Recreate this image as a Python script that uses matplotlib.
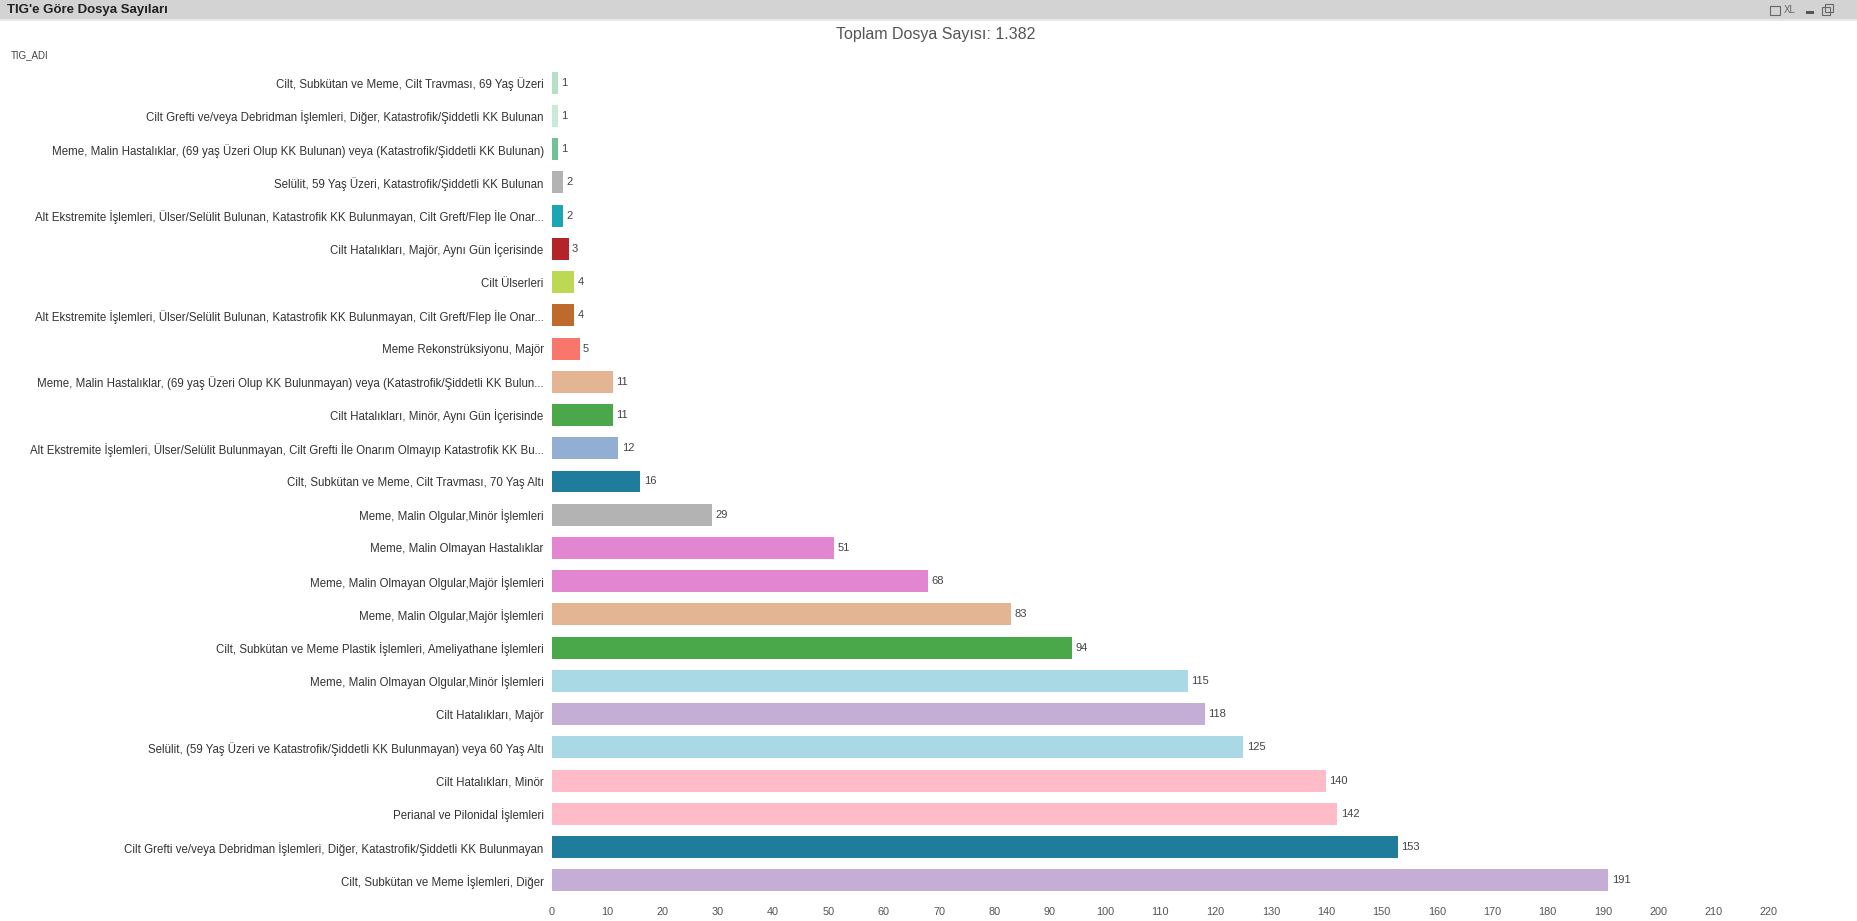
import matplotlib
matplotlib.use("Agg")
import matplotlib.pyplot as plt
from matplotlib.patches import Rectangle

plt.rcParams['font.family'] = ['Liberation Sans', 'DejaVu Sans']

# TIG names, top to bottom
tig_names = [
    "Cilt, Subkütan ve Meme, Cilt Travması, 69 Yaş Üzeri",
    "Cilt Grefti ve/veya Debridman İşlemleri, Diğer, Katastrofik/Şiddetli KK Bulunan",
    "Meme, Malin Hastalıklar, (69 yaş Üzeri Olup KK Bulunan) veya (Katastrofik/Şiddetli KK Bulunan)",
    "Selülit, 59 Yaş Üzeri, Katastrofik/Şiddetli KK Bulunan",
    "Alt Ekstremite İşlemleri, Ülser/Selülit Bulunan, Katastrofik KK Bulunmayan, Cilt Greft/Flep İle Onar...",
    "Cilt Hatalıkları, Majör, Aynı Gün İçerisinde",
    "Cilt Ülserleri",
    "Alt Ekstremite İşlemleri, Ülser/Selülit Bulunan, Katastrofik KK Bulunmayan, Cilt Greft/Flep İle Onar...",
    "Meme Rekonstrüksiyonu, Majör",
    "Meme, Malin Hastalıklar, (69 yaş Üzeri Olup KK Bulunmayan) veya (Katastrofik/Şiddetli KK Bulun...",
    "Cilt Hatalıkları, Minör, Aynı Gün İçerisinde",
    "Alt Ekstremite İşlemleri, Ülser/Selülit Bulunmayan, Cilt Grefti İle Onarım Olmayıp Katastrofik KK Bu...",
    "Cilt, Subkütan ve Meme, Cilt Travması, 70 Yaş Altı",
    "Meme, Malin Olgular,Minör İşlemleri",
    "Meme, Malin Olmayan Hastalıklar",
    "Meme, Malin Olmayan Olgular,Majör İşlemleri",
    "Meme, Malin Olgular,Majör İşlemleri",
    "Cilt, Subkütan ve Meme Plastik İşlemleri, Ameliyathane İşlemleri",
    "Meme, Malin Olmayan Olgular,Minör İşlemleri",
    "Cilt Hatalıkları, Majör",
    "Selülit, (59 Yaş Üzeri ve Katastrofik/Şiddetli KK Bulunmayan) veya 60 Yaş Altı",
    "Cilt Hatalıkları, Minör",
    "Perianal ve Pilonidal İşlemleri",
    "Cilt Grefti ve/veya Debridman İşlemleri, Diğer, Katastrofik/Şiddetli KK Bulunmayan",
    "Cilt, Subkütan ve Meme İşlemleri, Diğer",
]

file_counts = [1, 1, 1, 2, 2, 3, 4, 4, 5, 11, 11, 12, 16, 29, 51, 68, 83, 94,
               115, 118, 125, 140, 142, 153, 191]

bar_colors = [
    "#b5e0c6", "#c8ead6", "#72c095", "#b3b3b3", "#1aa6b2", "#b2242a",
    "#bdd954", "#bd6a2c", "#f8766b", "#e3b592", "#4ba84a", "#92aed2",
    "#207c9c", "#b3b3b3", "#e286d2", "#e286d2", "#e3b592", "#4ba84a",
    "#a8d9e4", "#c4aed6", "#a8d9e4", "#ffbcc8", "#ffbcc8", "#207c9c",
    "#c4aed6",
]

x_ticks = list(range(0, 230, 10))

total = sum(file_counts)

fig = plt.figure(figsize=(18.58, 9.21), dpi=100)
fig.patch.set_facecolor("white")

# window header strip
fig.patches.append(Rectangle((0, 1 - 19 / 921), 1, 19 / 921, transform=fig.transFigure,
                             facecolor="#d3d3d3", edgecolor="none"))
fig.patches.append(Rectangle((0, 1 - 21 / 921), 1, 2 / 921, transform=fig.transFigure,
                             facecolor="#e8e8e8", edgecolor="none"))
fig.text(7 / 1858, 1 - 10 / 921, "TIG'e Göre Dosya Sayıları", fontsize=9.5,
         fontweight="bold", color="#222222", va="center", ha="left")
fig.text(1790 / 1858, 1 - 10 / 921, "XL", fontsize=7, color="#666666",
         va="center", ha="center")
fig.patches.append(Rectangle((1770 / 1858, 1 - 15 / 921), 10 / 1858, 9 / 921,
                             transform=fig.transFigure, facecolor="none",
                             edgecolor="#666666", linewidth=0.8))
fig.patches.append(Rectangle((1806 / 1858, 1 - 14 / 921), 8 / 1858, 3 / 921,
                             transform=fig.transFigure, facecolor="#555555",
                             edgecolor="none"))
fig.patches.append(Rectangle((1822 / 1858, 1 - 15 / 921), 8 / 1858, 8 / 921,
                             transform=fig.transFigure, facecolor="none",
                             edgecolor="#666666", linewidth=0.8))
fig.patches.append(Rectangle((1825 / 1858, 1 - 12 / 921), 8 / 1858, 8 / 921,
                             transform=fig.transFigure, facecolor="none",
                             edgecolor="#666666", linewidth=0.8))

fig.text(936 / 1858, 1 - 35 / 921, f"Toplam Dosya Sayısı: {total:,}".replace(",", "."),
         fontsize=11.5, color="#555555", ha="center", va="center")
fig.text(11 / 1858, 1 - 55 / 921, "TIG_ADI", fontsize=7, color="#444444",
         ha="left", va="center")

ax = fig.add_axes([552 / 1858, 1 - 897 / 921, 1272 / 1858, 831 / 921])
y_pos = list(range(len(tig_names)))
ax.barh(y_pos, file_counts, height=0.66, color=bar_colors, edgecolor="none")
ax.set_ylim(len(tig_names) - 0.5, -0.5)
ax.set_xlim(0, 230)

ax.set_yticks(y_pos)
ax.set_yticklabels(tig_names, fontsize=8.3, color="#333333")
ax.set_xticks(x_ticks)
ax.set_xticklabels([str(t) for t in x_ticks], fontsize=7.8, color="#555555")
ax.tick_params(axis="y", length=0, pad=6)
ax.tick_params(axis="x", length=0, pad=7)
for spine in ax.spines.values():
    spine.set_visible(False)

for y, v in zip(y_pos, file_counts):
    ax.text(v + 0.6, y, str(v), fontsize=8, color="#444444", va="center", ha="left")

fig.savefig("out.png", dpi=100)
